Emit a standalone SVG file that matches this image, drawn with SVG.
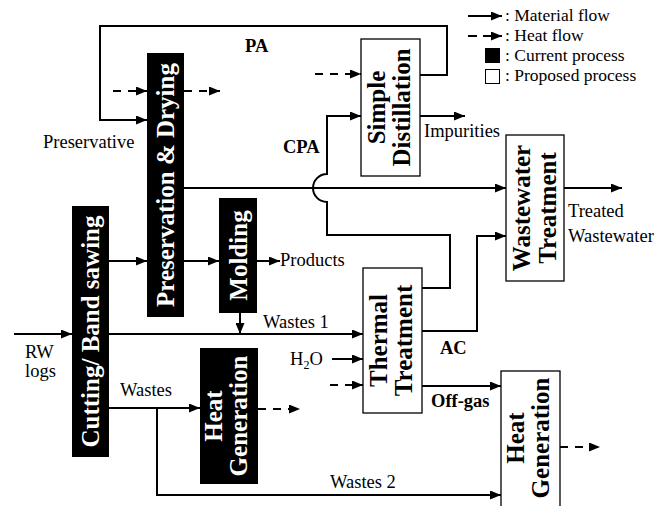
<svg xmlns="http://www.w3.org/2000/svg" width="655" height="506" viewBox="0 0 655 506">
<style>
.t{font-family:"Liberation Serif","Times New Roman",serif;font-size:18.5px;fill:#000}
.lg{font-family:"Liberation Serif","Times New Roman",serif;font-size:17.5px;fill:#000}
.b{font-family:"Liberation Serif","Times New Roman",serif;font-size:18.5px;font-weight:bold;fill:#000}
.bx{font-family:"Liberation Serif","Times New Roman",serif;font-size:25px;font-weight:bold;text-anchor:middle}
.w{fill:#fff}
.k{fill:#000}
.cur{fill:#000;stroke:none}
.prop{fill:#fff;stroke:#000;stroke-width:1.3}
.ln{fill:none;stroke:#000;stroke-width:2}
.ds{fill:none;stroke:#000;stroke-width:2;stroke-dasharray:8,7}
</style>
<defs>
<marker id="arr" markerUnits="userSpaceOnUse" markerWidth="11" markerHeight="9" refX="11" refY="4.5" orient="auto">
<path d="M0,0 L11,4.5 L0,9 z" fill="#000"/>
</marker>
</defs>
<rect width="655" height="506" fill="#fff"/>

<g id="legend">
<line class="ln" x1="468" y1="16" x2="502" y2="16" marker-end="url(#arr)"/>
<text class="lg" x="505" y="21">: Material flow</text>
<line class="ln" x1="468" y1="36" x2="502" y2="36" stroke-dasharray="9,6" marker-end="url(#arr)"/>
<text class="lg" x="505" y="41">: Heat flow</text>
<rect x="485" y="48" width="15" height="15" fill="#000"/>
<text class="lg" x="505" y="61">: Current process</text>
<rect x="485.5" y="69.5" width="14" height="14" fill="#fff" stroke="#000" stroke-width="1"/>
<text class="lg" x="505" y="81">: Proposed process</text>
</g>

<g id="connectors">
<polyline class="ln" points="420,75 447,75 447,26 100,26 100,120 147,120" marker-end="url(#arr)"/>
<line class="ds" x1="113" y1="91" x2="147" y2="91" marker-end="url(#arr)"/>
<line class="ds" x1="184" y1="91" x2="220" y2="91" marker-end="url(#arr)"/>
<line class="ds" x1="315" y1="74" x2="361" y2="74" marker-end="url(#arr)"/>
<path class="ln" d="M422,288 L450,288 L450,235 L327,235 L327,202 A14,14 0 0 1 327,174 L327,116 L361,116" marker-end="url(#arr)"/>
<line class="ln" x1="420" y1="116" x2="465" y2="116" marker-end="url(#arr)"/>
<line class="ln" x1="184" y1="188" x2="506" y2="188" marker-end="url(#arr)"/>
<line class="ln" x1="564" y1="188" x2="622" y2="188" marker-end="url(#arr)"/>
<polyline class="ln" points="422,331 477,331 477,236 506,236" marker-end="url(#arr)"/>
<line class="ln" x1="14" y1="334" x2="72" y2="334" marker-end="url(#arr)"/>
<line class="ln" x1="109" y1="261" x2="147" y2="261" marker-end="url(#arr)"/>
<line class="ln" x1="184" y1="261" x2="219" y2="261" marker-end="url(#arr)"/>
<line class="ln" x1="257" y1="261" x2="280" y2="261" marker-end="url(#arr)"/>
<line class="ln" x1="240" y1="313" x2="240" y2="334" marker-end="url(#arr)"/>
<line class="ln" x1="109" y1="334" x2="363" y2="334" marker-end="url(#arr)"/>
<line class="ln" x1="332" y1="359" x2="363" y2="359" marker-end="url(#arr)"/>
<line class="ds" x1="330" y1="385" x2="363" y2="385" marker-end="url(#arr)"/>
<line class="ln" x1="422" y1="386" x2="501" y2="386" marker-end="url(#arr)"/>
<line class="ln" x1="109" y1="408" x2="200" y2="408" marker-end="url(#arr)"/>
<line class="ds" x1="258" y1="409" x2="300" y2="409" marker-end="url(#arr)"/>
<polyline class="ln" points="157,408 157,495 501,495" marker-end="url(#arr)"/>
<line class="ds" x1="560" y1="447" x2="600" y2="447" marker-end="url(#arr)"/>
</g>

<g id="labels">
<text class="b" x="245" y="52">PA</text>
<text class="t" x="43" y="148">Preservative</text>
<text class="b" x="283" y="153">CPA</text>
<text class="t" x="424" y="137">Impurities</text>
<text class="t" x="280" y="266">Products</text>
<text class="t" x="263" y="328">Wastes 1</text>
<text class="t" x="568" y="217">Treated</text>
<text class="t" x="568" y="242">Wastewater</text>
<text class="t" x="25" y="358">RW</text>
<text class="t" x="25" y="377">logs</text>
<text class="t" x="290" y="365">H<tspan font-size="12" dy="4">2</tspan><tspan dy="-4">O</tspan></text>
<text class="b" x="440" y="354">AC</text>
<text class="b" x="431" y="407">Off-gas</text>
<text class="t" x="120" y="396">Wastes</text>
<text class="t" x="330" y="488">Wastes 2</text>
</g>

<g id="cutting">
<rect class="cur" x="72" y="206" width="37" height="251"/>
<text class="bx w" transform="translate(99,331.5) rotate(-90)">Cutting/ Band sawing</text>
</g>
<g id="preservation">
<rect class="cur" x="147" y="53" width="37" height="264"/>
<text class="bx w" transform="translate(174,185) rotate(-90)">Preservation &amp; Drying</text>
</g>
<g id="molding">
<rect class="cur" x="219" y="198" width="38" height="115"/>
<text class="bx w" transform="translate(246.5,255.5) rotate(-90)">Molding</text>
</g>
<g id="heat-generation-1">
<rect class="cur" x="200" y="348" width="58" height="136"/>
<text class="bx w" transform="translate(222,416) rotate(-90)">Heat</text>
<text class="bx w" transform="translate(247,416) rotate(-90)">Generation</text>
</g>
<g id="simple-distillation">
<rect class="prop" x="361" y="39" width="59" height="137"/>
<text class="bx k" transform="translate(385,107.5) rotate(-90)">Simple</text>
<text class="bx k" transform="translate(410,107.5) rotate(-90)">Distillation</text>
</g>
<g id="thermal-treatment">
<rect class="prop" x="363" y="268" width="59" height="145"/>
<text class="bx k" transform="translate(387,340.5) rotate(-90)">Thermal</text>
<text class="bx k" transform="translate(412,340.5) rotate(-90)">Treatment</text>
</g>
<g id="wastewater-treatment">
<rect class="prop" x="506" y="135" width="58" height="146"/>
<text class="bx k" transform="translate(530,208) rotate(-90)">Wastewater</text>
<text class="bx k" transform="translate(556,208) rotate(-90)">Treatment</text>
</g>
<g id="heat-generation-2">
<rect class="prop" x="501" y="371" width="59" height="145"/>
<text class="bx k" transform="translate(524,438) rotate(-90)">Heat</text>
<text class="bx k" transform="translate(549,438) rotate(-90)">Generation</text>
</g>
</svg>
